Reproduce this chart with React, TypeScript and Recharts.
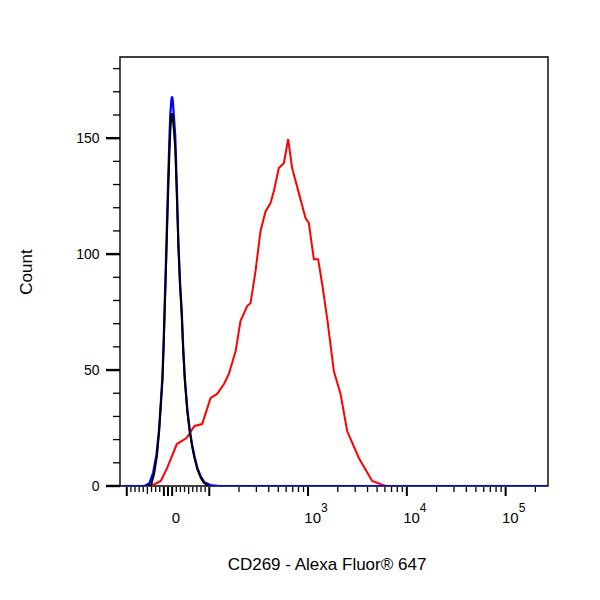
import React from 'react';
import { Label, Line, LineChart, ReferenceArea, XAxis, YAxis } from 'recharts';

// CD269 stained sample (red), isotype control (blue), unstained (black)
const redIntensity = [
  -110, -41, -17.5, -2, 21.4, 44.8, 64.1, 82.7, 103, 120, 141, 158, 185, 207, 242, 262, 294,
  330, 372, 417, 451, 506, 569, 629, 690, 807, 943, 1019, 1145, 1265, 1390, 1561, 1824, 2133,
  2488, 3266, 4456, 6084, 262144,
];
const redCount = [
  0, 0, 2.2, 7.8, 18.1, 20.7, 25.9, 26.7, 37.9, 39.7, 44, 48.3, 58.2, 71.1, 77.6, 78.9, 92.7,
  109.9, 118.5, 122, 127.2, 137.1, 139.2, 149.6, 137.1, 126.3, 115.5, 113.4, 97.8, 97.8, 87.1,
  72.4, 49.6, 39.7, 23.7, 12.1, 2.2, 0, 0,
];

const blueIntensity = [
  -110, -57, -45, -36, -28, -22, -17.5, -13.5, -10.5, -8.2, -5.8, -3.5, -1.2, 1.2, 3.5, 5.8, 8.2,
  9.8, 11.7, 14, 17.5, 21, 25.2, 29.1, 33.1, 36.8, 40.8, 46.6, 52.4, 58.3, 64.1, 71.1, 79.7, 89,
  103, 125, 262144,
];
const blueCount = [
  0, 0, 1.2, 5.8, 13.5, 24, 36, 47.5, 63, 77.5, 92, 107, 122, 137, 150.5, 161, 166.5, 168, 166,
  160, 151, 131, 105, 88, 76, 60, 46.5, 33.5, 24.5, 18, 12.8, 7.8, 3.9, 1.5, 0.4, 0, 0,
];

const blackIntensity = [
  -52.4, -40.8, -33.8, -26.8, -21.4, -17.5, -13.5, -10.5, -8.2, -5.8, -3.5, -1.2, 1.2, 3.5, 5.8,
  8.2, 9.8, 11.7, 14, 17.5, 21, 25.2, 29.1, 33.1, 36.8, 40.8, 46.6, 52.4, 58.3, 64.1, 71.1, 79.7,
  87.4, 99.1,
];
const blackCount = [
  0, 0.5, 5.2, 12.9, 23.7, 34.5, 45.3, 60.3, 74.1, 88.4, 102.6, 117.2, 131.5, 144.4, 153.9, 159.5,
  160.8, 158.6, 153.9, 145.7, 127.2, 102.6, 86.2, 74.1, 58.2, 45.3, 32.3, 23.7, 17.2, 12.1, 7.3,
  3.4, 1.3, 0,
];

// axis ticks
const labelledX = [
  { value: 0, base: '0', exp: '' },
  { value: 1000, base: '10', exp: '3' },
  { value: 10000, base: '10', exp: '4' },
  { value: 100000, base: '10', exp: '5' },
];
const majorX = [-100, 0, 100, 1000, 10000, 100000];
const linearMinorX = [-90, -80, -70, -60, -50, -40, -30, -20, -10, 10, 20, 30, 40, 50, 60, 70, 80, 90];
const logDecades = [100, 1000, 10000, 100000];
const logSteps = [2, 3, 4, 5, 6, 7, 8, 9];
const yTickValues = [0, 10, 20, 30, 40, 50, 60, 70, 80, 90, 100, 110, 120, 130, 140, 150, 160, 170, 180];
const yLabelled = [0, 50, 100, 150];

const X_MIN = -0.486;
const X_MAX = 3.846;
const Y_MAX = 185;
const LIN_WIDTH = 104;
const FONT = '"Liberation Sans", Arial, sans-serif';

// linear near zero, log10 above, joined smoothly (logicle-like display)
const toDisplay = (v: number) => {
  const a = Math.abs(v);
  const d = a <= LIN_WIDTH ? a / (LIN_WIDTH * Math.LN10) : 1 / Math.LN10 + Math.log10(a / LIN_WIDTH);
  return v < 0 ? -d : d;
};

const toSeries = (xs: number[], ys: number[]) => xs.map((x, i) => ({ u: toDisplay(x), c: ys[i] }));

const redData = toSeries(redIntensity, redCount);
const blueData = toSeries(blueIntensity, blueCount);
const blackData = toSeries(blackIntensity, blackCount);

type XTickKind = { kind: 'major' | 'minor' | 'mid'; base?: string; exp?: string };
const xTickInfo = new Map<string, XTickKind>();
const key = (u: number) => u.toFixed(5);

linearMinorX.forEach((v) =>
  xTickInfo.set(key(toDisplay(v)), { kind: Math.abs(v) <= 10 ? 'major' : Math.abs(v) === 50 ? 'mid' : 'minor' })
);
logDecades.forEach((d) =>
  logSteps.forEach((s) => {
    const v = d * s;
    if (toDisplay(v) < X_MAX) xTickInfo.set(key(toDisplay(v)), { kind: 'minor' });
  })
);
majorX.forEach((v) => xTickInfo.set(key(toDisplay(v)), { kind: 'major' }));
labelledX.forEach((t) => xTickInfo.set(key(toDisplay(t.value)), { kind: 'major', base: t.base, exp: t.exp }));

const xTicks = Array.from(xTickInfo.keys()).map(Number).sort((a, b) => a - b);

const XTick = (props: any) => {
  const { x, y, payload } = props;
  const info = xTickInfo.get(key(payload.value)) ?? { kind: 'minor' };
  const len = info.kind === 'major' ? 9 : info.kind === 'mid' ? 7 : 5;
  const w = info.kind === 'major' ? 2 : 1.3;
  return (
    <g>
      <line x1={x} x2={x} y1={y + 1} y2={y + 1 + len} stroke="#000" strokeWidth={w} />
      {info.base !== undefined && (
        <text x={x + 8} y={y + 37} textAnchor="middle" fontSize={15} fontFamily={FONT} fill="#000">
          <tspan>{info.base}</tspan>
          {info.exp ? (
            <tspan dy={-11} fontSize={12}>
              {info.exp}
            </tspan>
          ) : null}
        </text>
      )}
    </g>
  );
};

const YTick = (props: any) => {
  const { x, y, payload } = props;
  const major = yLabelled.includes(payload.value);
  return (
    <g>
      <line x1={x - (major ? 14 : 7)} x2={x} y1={y} y2={y} stroke="#000" strokeWidth={major ? 2.4 : 1.3} />
      {major && (
        <text x={x - 20.5} y={y + 5} textAnchor="end" fontSize={14} fontFamily={FONT} fill="#000">
          {payload.value}
        </text>
      )}
    </g>
  );
};

export default function App() {
  return (
    <div style={{ position: 'absolute', left: 0, top: 0, width: 600, height: 600, background: '#fff' }}>
      <LineChart width={600} height={600} margin={{ top: 57, right: 52, bottom: 0, left: 0 }}>
        <XAxis
          type="number"
          dataKey="u"
          domain={[X_MIN, X_MAX]}
          allowDataOverflow
          ticks={xTicks}
          interval={0}
          height={114}
          axisLine={false}
          tickLine={false}
          tickSize={0}
          tickMargin={0}
          tick={(p: any) => <XTick {...p} />}
        >
          <Label
            content={() => (
              <text x={327} y={570} textAnchor="middle" fontSize={17} fontFamily={FONT} fill="#000">
                CD269 - Alexa Fluor® 647
              </text>
            )}
          />
        </XAxis>
        <YAxis
          type="number"
          domain={[0, Y_MAX]}
          allowDataOverflow
          ticks={yTickValues}
          interval={0}
          width={120}
          axisLine={false}
          tickLine={false}
          tickSize={0}
          tickMargin={0}
          tick={(p: any) => <YTick {...p} />}
        >
          <Label
            content={() => (
              <text
                x={32}
                y={272}
                transform="rotate(-90, 32, 272)"
                textAnchor="middle"
                fontSize={17}
                fontFamily={FONT}
                fill="#000"
              >
                Count
              </text>
            )}
          />
        </YAxis>
        <ReferenceArea
          x1={X_MIN}
          x2={X_MAX}
          y1={0}
          y2={Y_MAX}
          fill="none"
          fillOpacity={0}
          stroke="#000"
          strokeWidth={1.4}
          ifOverflow="visible"
        />
        <Line data={redData} dataKey="c" type="linear" stroke="#ff0000" strokeWidth={2} dot={false} isAnimationActive={false} />
        <Line data={blueData} dataKey="c" type="linear" stroke="#0000ff" strokeWidth={2.2} dot={false} isAnimationActive={false} />
        <Line data={blackData} dataKey="c" type="linear" stroke="#000000" strokeWidth={2} dot={false} isAnimationActive={false} />
      </LineChart>
    </div>
  );
}
